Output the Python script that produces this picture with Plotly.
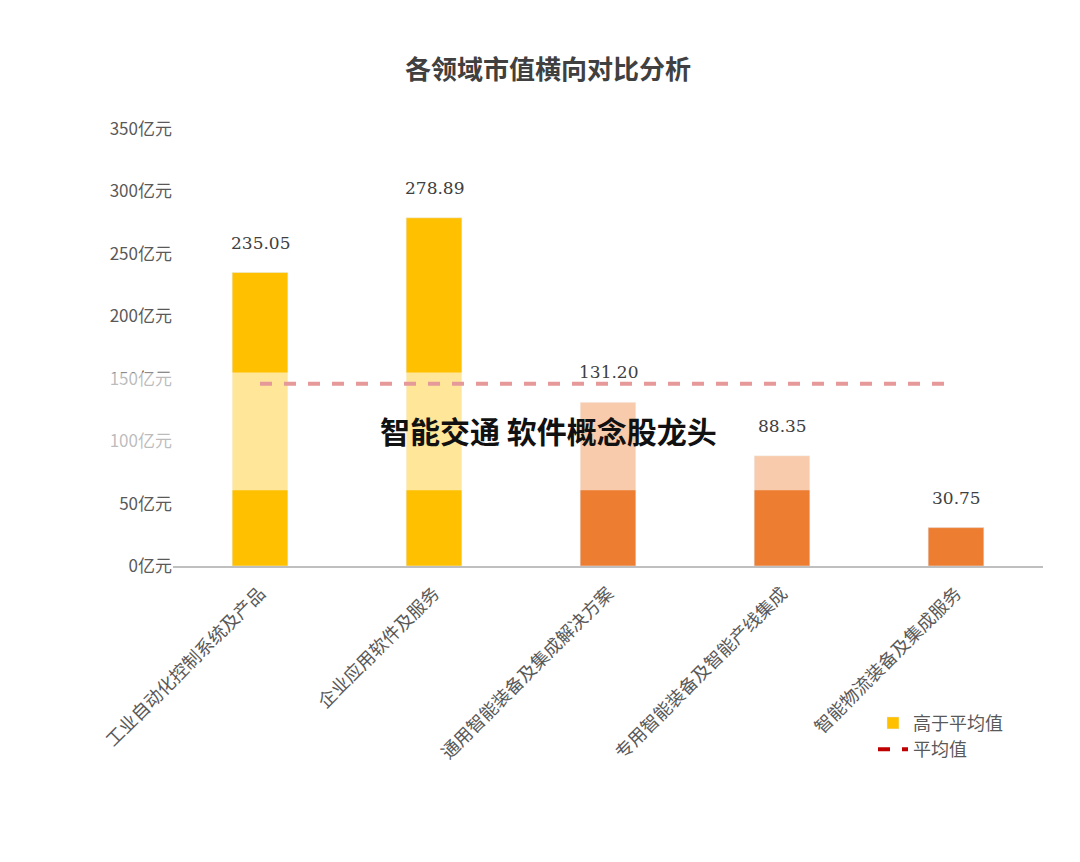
import plotly.graph_objects as go

categories = ["工业自动化控制系统及产品", "企业应用软件及服务", "通用智能装备及集成解决方案", "专用智能装备及智能产线集成", "智能物流装备及集成服务"]
values = [235.05, 278.89, 131.20, 88.35, 30.75]
colors = ["#FFC000", "#FFC000", "#ED7D31", "#ED7D31", "#ED7D31"]
avg_value = 146.0
tick_vals = [0, 50, 100, 150, 200, 250, 300, 350]
tick_text = ["0亿元", "50亿元", "100亿元", "150亿元", "200亿元", "250亿元", "300亿元", "350亿元"]

fig = go.Figure()
fig.add_trace(go.Bar(x=categories, y=values, marker_color=colors, width=0.32,
                     name="高于平均值", showlegend=False))
fig.add_trace(go.Bar(x=[None], y=[None], marker_color="#FFC000", name="高于平均值"))
fig.add_trace(go.Scatter(x=categories, y=[avg_value]*len(categories), mode="lines",
                         line=dict(color="#C00000", width=4, dash="dash"), name="平均值"))
for c, v in zip(categories, values):
    fig.add_annotation(x=c, y=v, text=f"{v:.2f}", showarrow=False, yshift=30,
                       font=dict(size=17, color="#404040", family="DejaVu Serif"))

fig.add_shape(type="rect", xref="paper", yref="paper", x0=-0.2, x1=1.06, y0=(566-490)/438, y1=(566-372)/438,
              fillcolor="rgba(255,255,255,0.6)", line_width=0, layer="above")
fig.add_annotation(xref="paper", yref="paper", x=(540-165)/870, y=(566-430)/438, yanchor="middle",
                   text="<b>智能交通 软件概念股龙头</b>",
                   showarrow=False, font=dict(size=30, color="#111", family="Noto Sans CJK SC"))

fig.update_layout(
    width=1080, height=862, plot_bgcolor="white", paper_bgcolor="white",
    margin=dict(l=165, r=45, t=121, b=304),
    title=dict(text="<b>各领域市值横向对比分析</b>", x=0.5, y=1-62/862, xanchor="center", yanchor="middle",
               font=dict(size=26, color="#404040", family="Noto Sans CJK SC")),
    font=dict(family="Noto Sans CJK SC", color="#595959", size=17),
    xaxis=dict(tickangle=-45, showline=True, linecolor="#BFBFBF", linewidth=1.5, tickfont=dict(size=18),
               ticks="outside", ticklen=8, tickcolor="white"),
    yaxis=dict(range=[0, 350], tickvals=tick_vals, ticktext=tick_text, showgrid=False, zeroline=False,
               tickfont=dict(size=17, family="Noto Sans CJK SC")),
    legend=dict(x=(865-165)/870, y=(566-705)/438, xanchor="left", yanchor="top", font=dict(size=18),
                bgcolor="rgba(0,0,0,0)"),
    bargap=0.5,
)
fig.write_html("out.html")
